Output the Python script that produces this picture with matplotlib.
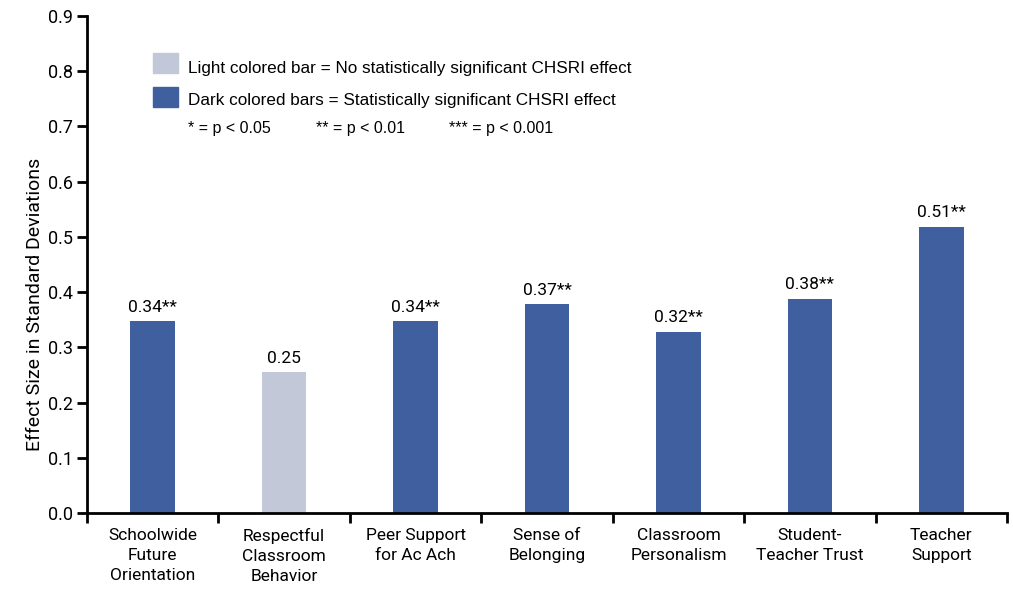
import matplotlib.pyplot as plt
from matplotlib.patches import Rectangle

# data
categories = ["Schoolwide\nFuture\nOrientation", "Respectful\nClassroom\nBehavior",
              "Peer Support\nfor Ac Ach", "Sense of\nBelonging", "Classroom\nPersonalism",
              "Student-\nTeacher Trust", "Teacher\nSupport"]
effect_sizes = [0.347, 0.255, 0.347, 0.378, 0.328, 0.388, 0.518]
value_labels = ["0.34**", "0.25", "0.34**", "0.37**", "0.32**", "0.38**", "0.51**"]
significant = [True, False, True, True, True, True, True]

DARK = "#3f5f9e"
LIGHT = "#c2c8d8"
LEGEND_FONT = ["Liberation Sans", "DejaVu Sans"]

plt.rcParams["font.family"] = ["Liberation Sans Narrow", "Roboto", "DejaVu Sans"]

fig = plt.figure(figsize=(10.13, 5.9), dpi=100)
ax = fig.add_axes([87 / 1013, 77 / 590, 920 / 1013, 497 / 590])

x = range(len(categories))
colors = [DARK if s else LIGHT for s in significant]
bars = ax.bar(x, effect_sizes, width=0.34, color=colors, zorder=2)
for b, lab in zip(bars, value_labels):
    ax.text(b.get_x() + b.get_width() / 2, b.get_height() + 0.012, lab,
            ha="center", va="bottom", fontsize=12.5)

ax.set_xlim(-0.5, len(categories) - 0.5)
ax.set_ylim(0, 0.9)
ax.set_yticks([i / 10 for i in range(10)])
ax.set_yticklabels([f"{i / 10:.1f}" for i in range(10)], fontsize=13)
ax.set_xticks(list(x))
ax.set_xticklabels(categories, fontsize=12.5, linespacing=1.4)
ax.tick_params(axis="x", length=0, pad=11)
ax.set_xticks([i - 0.5 for i in range(len(categories) + 1)], minor=True)
ax.tick_params(axis="x", which="minor", length=7, width=2, direction="out")
ax.tick_params(axis="y", length=7, width=2, direction="out", pad=3)

for side in ["top", "right"]:
    ax.spines[side].set_visible(False)
ax.spines["left"].set_linewidth(2)
ax.spines["bottom"].set_linewidth(2)

ax.set_ylabel("Effect Size in Standard Deviations", fontsize=14)
ax.yaxis.set_label_coords(-0.047, 0.42)

# legend box drawn in figure pixels
W, H = 1013, 590
def px(xp, yp):
    return xp / W, 1 - yp / H

fig.patches.append(Rectangle(px(153, 73), 25 / W, 20 / H, color=LIGHT, transform=fig.transFigure))
fig.patches.append(Rectangle(px(153, 107), 25 / W, 20 / H, color=DARK, transform=fig.transFigure))
fig.text(*px(188, 68), "Light colored bar = No statistically significant CHSRI effect",
         fontsize=12.3, va="center", family=LEGEND_FONT)
fig.text(*px(188, 101), "Dark colored bars = Statistically significant CHSRI effect",
         fontsize=12.3, va="center", family=LEGEND_FONT)
fig.text(*px(188, 129), "* = p < 0.05", fontsize=11.5, va="center", family=LEGEND_FONT)
fig.text(*px(316, 129), "** = p < 0.01", fontsize=11.5, va="center", family=LEGEND_FONT)
fig.text(*px(449, 129), "*** = p < 0.001", fontsize=11.5, va="center", family=LEGEND_FONT)

fig.savefig("out.png", dpi=100)
